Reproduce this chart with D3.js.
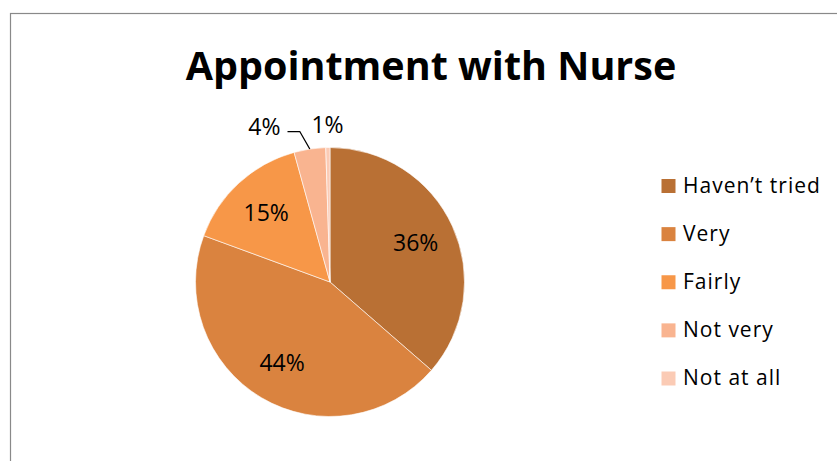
<!DOCTYPE html>
<html>
<head>
<meta charset="utf-8">
<script src="https://cdn.jsdelivr.net/npm/d3@7"></script>
<style>
  body { margin: 0; background: #fff; }
  svg { display: block; font-family: "Open Sans", "Liberation Sans", Arial, sans-serif; }
</style>
</head>
<body>
<div id="chart"></div>
<script>
// Données
const categories = ["Haven\u2019t tried", "Very", "Fairly", "Not very", "Not at all"];
const values = [36.4, 44.2, 15.1, 3.8, 0.5];
const colors = ["#B97034", "#DA833F", "#F79748", "#F9B490", "#FBCBB5"];
const title = "Appointment with Nurse";

const data = categories.map((c, i) => ({ name: c, value: values[i], color: colors[i] }));

const width = 837, height = 461;
const cx = 330, cy = 282, radius = 134.5;

const svg = d3.select("#chart")
    .append("svg")
    .attr("width", width)
    .attr("height", height);

// Cadre du graphique (dépasse à droite et en bas)
svg.append("rect")
    .attr("x", 10.5).attr("y", 13.5)
    .attr("width", 900).attr("height", 500)
    .attr("fill", "#fff")
    .attr("stroke", "#898989")
    .attr("stroke-width", 1.2);

// Titre
svg.append("text")
    .attr("x", 431).attr("y", 80)
    .attr("text-anchor", "middle")
    .attr("font-size", 39.5)
    .attr("font-weight", "bold")
    .attr("fill", "#000")
    .text(title);

// Camembert
const pie = d3.pie().sort(null).value(d => d.value);
const arcs = pie(data);

const arc = d3.arc().innerRadius(0).outerRadius(radius);
const labelArc = d3.arc().innerRadius(radius * 0.7).outerRadius(radius * 0.7);

const g = svg.append("g").attr("transform", `translate(${cx},${cy})`);

g.selectAll("path.slice")
    .data(arcs)
    .join("path")
    .attr("class", "slice")
    .attr("d", arc)
    .attr("fill", d => d.data.color)
    .attr("stroke", "#fff")
    .attr("stroke-width", 0.6);

const pct = d => Math.round(d.data.value) + "%";
const midAngle = d => (d.startAngle + d.endAngle) / 2;

// Étiquettes intérieures (grandes parts)
g.selectAll("text.inner")
    .data(arcs.filter(d => d.data.value >= 5))
    .join("text")
    .attr("class", "inner")
    .attr("transform", d => `translate(${labelArc.centroid(d)})`)
    .attr("text-anchor", "middle")
    .attr("dy", "0.36em")
    .attr("font-size", 23)
    .attr("fill", "#000")
    .text(pct);

// Étiquettes extérieures (petites parts)
const outerR = 157;
const small = arcs.filter(d => d.data.value < 5);
const shiftNeeded = small.length > 1 ? small[0] : null; // la première se décale à gauche
const shiftX = -42;

small.forEach(d => {
    const a = midAngle(d);
    let x = outerR * Math.sin(a);
    const y = -outerR * Math.cos(a);
    const shifted = d === shiftNeeded;
    if (shifted) x += shiftX;

    const t = g.append("text")
        .attr("x", x).attr("y", y)
        .attr("text-anchor", "middle")
        .attr("dy", "0.36em")
        .attr("font-size", 23)
        .attr("fill", "#000")
        .text(pct(d));

    if (shifted) {
        const bb = t.node().getBBox();
        const ex = radius * Math.sin(a), ey = -radius * Math.cos(a);
        const elbow = [ex - 10, ey - 17.5];
        g.append("polyline")
            .attr("points", [[bb.x + bb.width + 7, elbow[1]], elbow, [ex, ey]].map(p => p.join(",")).join(" "))
            .attr("fill", "none")
            .attr("stroke", "#000")
            .attr("stroke-width", 1.3);
    }
});

// Légende
const ly = d3.scaleLinear().domain([0, categories.length - 1]).range([179, 371.5]);

const legend = svg.append("g")
    .selectAll("g")
    .data(data)
    .join("g")
    .attr("transform", (d, i) => `translate(661.5,${ly(i)})`);

legend.append("rect")
    .attr("width", 14).attr("height", 14)
    .attr("fill", d => d.color);

legend.append("text")
    .attr("x", 21.5).attr("y", 13.5)
    .attr("font-size", 21)
    .attr("letter-spacing", 1.0)
    .attr("fill", "#000")
    .text(d => d.name);
</script>
</body>
</html>
